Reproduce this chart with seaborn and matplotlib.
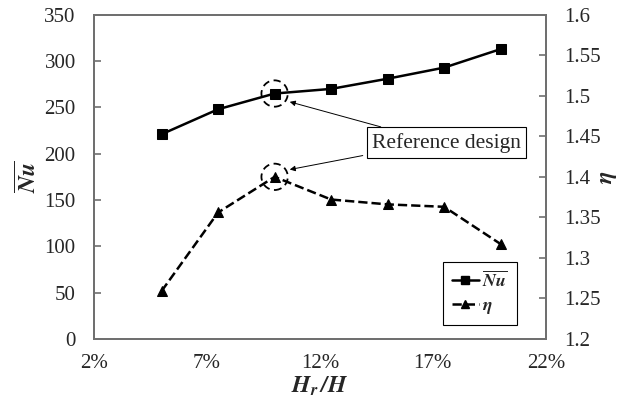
import pandas as pd
import matplotlib
matplotlib.use('Agg')
import matplotlib.pyplot as plt
import seaborn as sns
from matplotlib.lines import Line2D

# data
hr_ratio = [5, 7.5, 10, 12.5, 15, 17.5, 20]          # Hr/H in %
nu_mean = [221, 248, 265, 270, 281, 293, 313]
eta = [1.259, 1.356, 1.400, 1.372, 1.366, 1.363, 1.317]
x_ticks = [2, 7, 12, 17, 22]
x_tick_labels = ['2%', '7%', '12%', '17%', '22%']
ref_x = 10
ref_nu = 265
ref_eta = 1.40

df = pd.DataFrame({'hr': hr_ratio, 'nu': nu_mean, 'eta': eta})

sns.set_style('white')
plt.rcParams['font.family'] = ['Liberation Serif', 'DejaVu Serif']
plt.rcParams['mathtext.fontset'] = 'stix'

fig = plt.figure(figsize=(6.21, 4.01), dpi=100)
ax = fig.add_axes([0.151, 0.155, 0.728, 0.808])
ax2 = ax.twinx()

sns.lineplot(x='hr', y='nu', data=df, ax=ax, color='black', lw=1.8,
             marker='s', markersize=7, markeredgecolor='black')
sns.lineplot(x='hr', y='eta', data=df, ax=ax2, color='black', lw=1.8,
             linestyle='--', marker='^', markersize=7, markeredgecolor='black')

ax.set_xlim(2, 22)
ax.set_ylim(0, 350)
ax2.set_ylim(1.2, 1.6)
ax.set_xticks(x_ticks)
ax.set_xticklabels(x_tick_labels)
ax.set_yticks(range(0, 351, 50))
ax2.set_yticks([1.2, 1.25, 1.3, 1.35, 1.4, 1.45, 1.5, 1.55, 1.6])
ax2.set_yticklabels(['1.2', '1.25', '1.3', '1.35', '1.4', '1.45', '1.5', '1.55', '1.6'])

for a in (ax, ax2):
    for s in a.spines.values():
        s.set_color('#707070')
        s.set_linewidth(1.4)
    a.tick_params(direction='in', length=5, width=1.2, color='#707070',
                  labelsize=15, pad=13)
ax.tick_params(axis='x', pad=11)

ax.set_xlabel(r'$\mathbfit{H}_{\mathbfit{r}}\,\mathbfit{/H}$', fontsize=17, labelpad=1)
ax.set_ylabel(r'$\overline{\mathbfit{Nu}}$', fontsize=17, labelpad=2)
ax2.set_ylabel(r'$\mathbfit{\eta}$', fontsize=17, rotation=90)
ax2.yaxis.set_label_coords(1.115, 0.5)

# dashed circles around the reference design
ax.scatter([ref_x], [ref_nu], s=360, facecolors='none', edgecolors='black',
           linestyles=(0, (4, 2.5)), linewidths=1.3, zorder=5)
ax2.scatter([ref_x], [ref_eta], s=360, facecolors='none', edgecolors='black',
            linestyles=(0, (4, 2.5)), linewidths=1.3, zorder=5)

ax.annotate('Reference design', xy=(10.67, 256), xytext=(17.6, 212),
            fontsize=15.5, ha='center', va='center',
            bbox=dict(boxstyle='square,pad=0.25', fc='white', ec='black', lw=0.8),
            arrowprops=dict(arrowstyle='-|>', color='black', lw=0.7,
                            shrinkA=0, shrinkB=0, mutation_scale=8,
                            relpos=(0.2, 1.0)))
ax2.annotate('', xy=(10.67, 1.409), xytext=(13.9, 198.0),
             textcoords=ax.transData,
             arrowprops=dict(arrowstyle='-|>', color='black', lw=0.7,
                             shrinkA=0, shrinkB=0, mutation_scale=8))

handles = [Line2D([], [], color='black', lw=1.8, marker='s', markersize=6),
           Line2D([], [], color='black', lw=1.8, ls='--', marker='^', markersize=6)]
leg = ax2.legend(handles, [r'$\overline{\mathbfit{Nu}}$', r'$\mathbfit{\eta}$'],
                 loc='lower right', bbox_to_anchor=(0.936, 0.043),
                 borderaxespad=0, fontsize=13, handlelength=1.5, handletextpad=0.2,
                 fancybox=False, framealpha=1, edgecolor='black',
                 borderpad=0.5, labelspacing=0.35)
leg.get_frame().set_linewidth(0.8)

fig.savefig('out.png', dpi=100)
